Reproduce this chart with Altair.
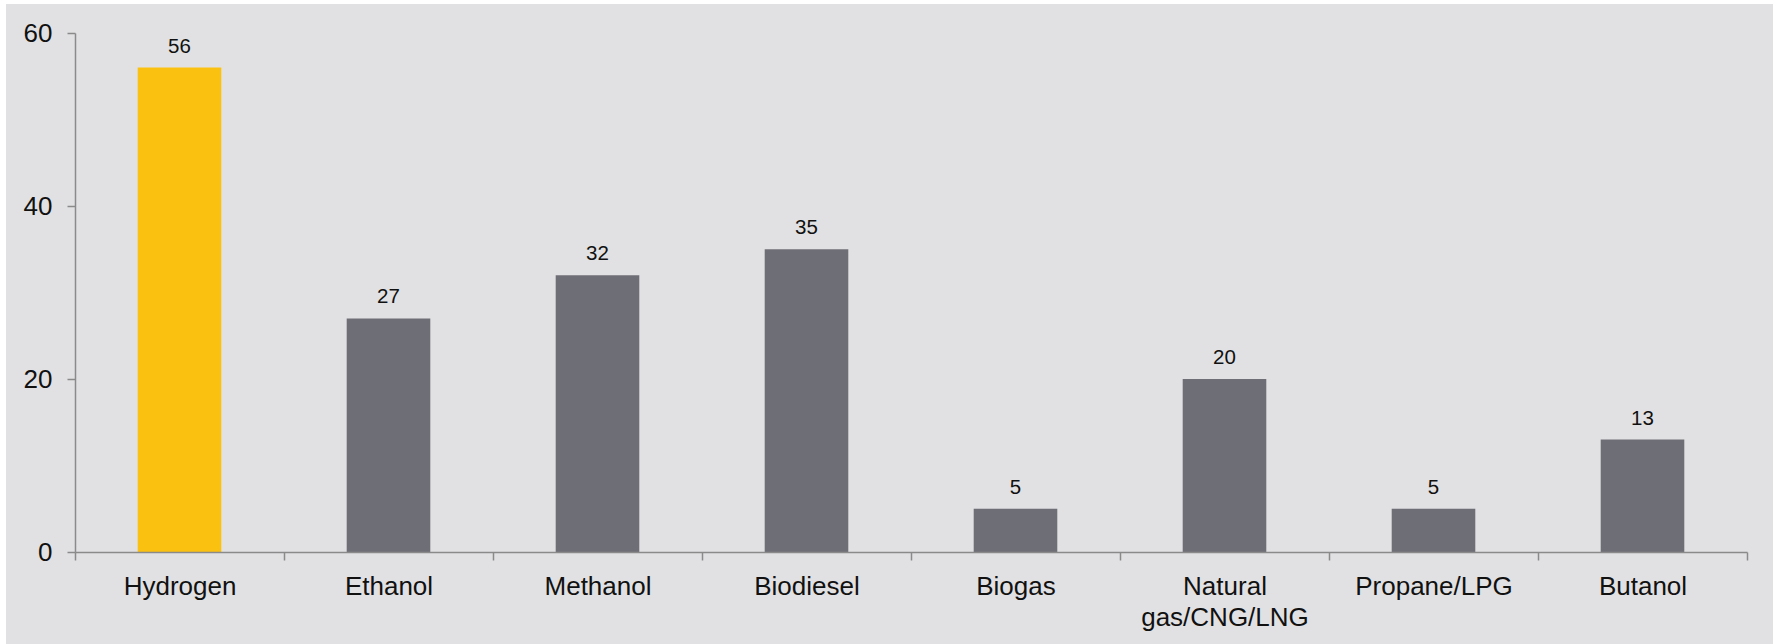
import altair as alt
import pandas as pd

# Fuel categories and their counts
categories = ["Hydrogen", "Ethanol", "Methanol", "Biodiesel", "Biogas",
              "Natural gas/CNG/LNG", "Propane/LPG", "Butanol"]
values = [56, 27, 32, 35, 5, 20, 5, 13]
highlight = ["Hydrogen"]

df = pd.DataFrame({"fuel": categories, "count": values})
df["group"] = ["hi" if c in highlight else "base" for c in categories]

W, H = 1672, 519
FONT = "Liberation Sans"
AXIS_GRAY = "#8a8a8a"
PANEL = "#e1e1e3"

x_enc = alt.X(
    "fuel:N",
    sort=categories,
    scale=alt.Scale(paddingInner=0, paddingOuter=0),
    axis=alt.Axis(
        title=None,
        labelAngle=0,
        labelFont=FONT,
        labelFontSize=26,
        labelColor="#111111",
        labelPadding=13,
        labelLineHeight=31,
        labelExpr="split(datum.label, ' ')",
        tickBand="extent",
        tickSize=8,
        tickColor=AXIS_GRAY,
        tickWidth=1.5,
        domainColor=AXIS_GRAY,
        domainWidth=1.5,
        grid=False,
        zindex=1,
    ),
)

y_enc = alt.Y(
    "count:Q",
    scale=alt.Scale(domain=[0, 60], nice=False),
    axis=alt.Axis(
        title=None,
        values=[0, 20, 40, 60],
        labelFont=FONT,
        labelFontSize=26,
        labelColor="#111111",
        labelPadding=15,
        tickSize=8,
        tickColor=AXIS_GRAY,
        tickWidth=1.5,
        domainColor=AXIS_GRAY,
        domainWidth=1.5,
        grid=False,
        zindex=1,
    ),
)

# light gray panel behind the plot, leaving a thin white margin at left/top
panel = alt.Chart(df).mark_rect(color=PANEL).encode(
    x=alt.value(-69), x2=alt.value(W + 26),
    y=alt.value(-29), y2=alt.value(H + 92),
)

bars = alt.Chart(df).mark_bar(width=alt.RelativeBandSize(0.4)).encode(
    x=x_enc,
    y=y_enc,
    color=alt.Color(
        "group:N",
        scale=alt.Scale(domain=["hi", "base"], range=["#fbc111", "#6e6e76"]),
        legend=None,
    ),
)

labels = alt.Chart(df).mark_text(
    font=FONT, fontSize=20.5, color="#111111", baseline="alphabetic", dy=-15
).encode(
    x=x_enc,
    y=y_enc,
    text=alt.Text("count:Q"),
)

chart = (
    alt.layer(panel, bars, labels)
    .properties(
        width=W,
        height=H,
        autosize=alt.AutoSizeParams(type="none"),
        padding={"left": 75, "top": 33, "right": 26, "bottom": 92},
        background="white",
    )
    .configure_view(stroke=None)
)

chart.save("out.html", embed_options={"renderer": "svg", "actions": False})
